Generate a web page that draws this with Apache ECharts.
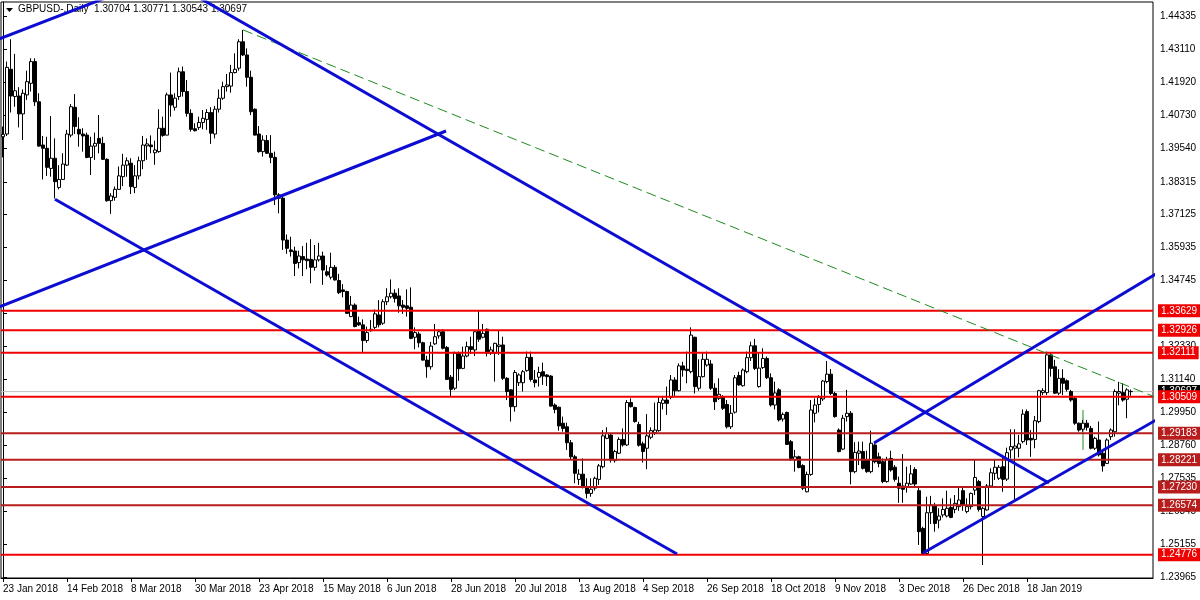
<!DOCTYPE html>
<html>
<head>
<meta charset="utf-8">
<script src="https://cdn.jsdelivr.net/npm/echarts@6/dist/echarts.min.js"></script>
<style>
html,body{margin:0;padding:0;background:#fff;}
#chart{width:1200px;height:600px;}
</style>
</head>
<body>
<div id="chart"></div>
<script>
// ---------- DATA ----------
const symbolTitle = 'GBPUSD-,Daily';
const headerQuote = ['1.30704', '1.30771', '1.30543', '1.30697'];
const startDay = '2018-01-23';
const holidays = ['2018-12-25', '2019-01-01'];
const slotCount = 288;          // bars + empty right margin
const labelEvery = 16;

const opens = [
1.3995,1.4005,1.4240,1.4141,1.4143,1.4078,1.4147,1.4189,1.4268,1.4122,
1.3965,1.3953,1.3880,1.3917,1.3811,1.3840,1.3892,1.4001,1.4102,1.4022,
1.4005,1.4001,1.3920,1.3961,1.3989,1.3971,1.3913,1.3763,1.3775,1.3804,
1.3850,1.3892,1.3899,1.3811,1.3853,1.3908,1.3962,1.3965,1.3937,1.3941,
1.4026,1.4001,1.4147,1.4102,1.4141,1.4231,1.4159,1.4080,1.4024,1.4029,
1.4047,1.4058,1.4083,1.4005,1.4095,1.4135,1.4177,1.4179,1.4228,1.4244,
1.4340,1.4292,1.4211,1.4095,1.4005,1.3941,1.3981,1.3935,1.3920,1.3784,
1.3772,1.3620,1.3584,1.3580,1.3538,1.3560,1.3551,1.3550,1.3521,1.3548,
1.3562,1.3505,1.3485,1.3521,1.3473,1.3439,1.3433,1.3342,1.3384,1.3320,
1.3312,1.3255,1.3291,1.3303,1.3348,1.3318,1.3396,1.3414,1.3427,1.3417,
1.3384,1.3381,1.3376,1.3267,1.3279,1.3247,1.3184,1.3160,1.3243,1.3272,
1.3287,1.3230,1.3122,1.3082,1.3209,1.3154,1.3199,1.3233,1.3221,1.3290,
1.3267,1.3296,1.3209,1.3209,1.3233,1.3239,1.3118,1.3076,1.3015,1.3102,
1.3102,1.3146,1.3194,1.3112,1.3122,1.3142,1.3130,1.3126,1.3021,1.3013,
1.2955,1.2942,1.2884,1.2833,1.2751,1.2770,1.2725,1.2700,1.2719,1.2751,
1.2797,1.2900,1.2912,1.2819,1.2846,1.2896,1.2876,1.3030,1.3012,1.2950,
1.2880,1.2864,1.2904,1.2921,1.2928,1.3027,1.3039,1.3049,1.3112,1.3073,
1.3163,1.3151,1.3142,1.3267,1.3082,1.3124,1.3166,1.3170,1.3082,1.3045,
1.3051,1.3023,1.2942,1.2995,1.3128,1.3091,1.3142,1.3193,1.3236,1.3088,
1.3157,1.3190,1.3120,1.3021,1.3076,1.2970,1.2994,1.2888,1.2821,1.2833,
1.2801,1.2706,1.2769,1.2991,1.3023,1.3043,1.3106,1.3133,1.3063,1.2930,
1.2861,1.2979,1.2991,1.2779,1.2846,1.2852,1.2821,1.2779,1.2876,1.2833,
1.2815,1.2743,1.2827,1.2795,1.2737,1.2727,1.2725,1.2734,1.2787,1.2710,
1.2573,1.2482,1.2630,1.2654,1.2603,1.2622,1.2618,1.2649,1.2642,1.2652,
1.2710,1.2634,1.2652,1.2712,1.2743,1.2616,1.2640,1.2727,1.2773,1.2755,
1.2797,1.2752,1.2858,1.2864,1.2864,1.2888,1.2997,1.2900,1.2896,1.2961,
1.3066,1.3066,1.3203,1.3160,1.3064,1.3118,1.3109,1.3070,1.3045,1.2955,
1.2933,1.2955,1.2936,1.2864,1.2894,1.2846,1.2809,1.2906,1.2924,1.3064,
1.3066,1.3042,1.30704
];
const highs = [
1.4032,1.4268,1.4349,1.4296,1.4175,1.4167,1.4235,1.4280,1.4280,1.4153,
1.3998,1.3995,1.4070,1.3989,1.3892,1.3935,1.4020,1.4114,1.4150,1.4066,
1.4026,1.4010,1.3995,1.4010,1.4074,1.3995,1.3917,1.3790,1.3814,1.3887,
1.3933,1.3920,1.3917,1.3892,1.3923,1.3998,1.3989,1.4000,1.3981,1.4095,
1.4068,1.4155,1.4228,1.4153,1.4246,1.4250,1.4201,1.4095,1.4044,1.4068,
1.4092,1.4095,1.4102,1.4107,1.4167,1.4195,1.4223,1.4256,1.4298,1.4349,
1.4383,1.4316,1.4235,1.4098,1.4034,1.4000,1.4001,1.4001,1.3941,1.3790,
1.3778,1.3640,1.3632,1.3596,1.3581,1.3598,1.3610,1.3623,1.3602,1.3610,
1.3578,1.3529,1.3574,1.3529,1.3497,1.3460,1.3436,1.3417,1.3390,1.3342,
1.3332,1.3306,1.3330,1.3368,1.3402,1.3405,1.3445,1.3477,1.3441,1.3445,
1.3402,1.3441,1.3448,1.3303,1.3287,1.3251,1.3200,1.3250,1.3315,1.3296,
1.3296,1.3235,1.3130,1.3215,1.3215,1.3233,1.3251,1.3269,1.3293,1.3366,
1.3315,1.3299,1.3233,1.3247,1.3293,1.3269,1.3122,1.3078,1.3148,1.3136,
1.3148,1.3215,1.3215,1.3148,1.3160,1.3175,1.3133,1.3130,1.3027,1.3015,
1.2979,1.2957,1.2894,1.2840,1.2788,1.2827,1.2755,1.2755,1.2761,1.2807,
1.2930,1.2940,1.2918,1.2858,1.2904,1.2936,1.3039,1.3045,1.3015,1.2960,
1.2888,1.2988,1.2940,1.3030,1.3051,1.3054,1.3088,1.3130,1.3122,1.3172,
1.3178,1.3215,1.3303,1.3269,1.3187,1.3211,1.3215,1.3184,1.3100,1.3118,
1.3057,1.3039,1.3021,1.3130,1.3142,1.3154,1.3215,1.3251,1.3261,1.3209,
1.3227,1.3197,1.3136,1.3106,1.3082,1.2994,1.2997,1.2894,1.2858,1.2837,
1.2806,1.2779,1.3039,1.3045,1.3057,1.3112,1.3181,1.3152,1.3069,1.2936,
1.2985,1.3076,1.2999,1.2886,1.2888,1.2888,1.2855,1.2928,1.2882,1.2848,
1.2827,1.2833,1.2855,1.2803,1.2761,1.2843,1.2797,1.2803,1.2795,1.2724,
1.2579,1.2688,1.2691,1.2666,1.2646,1.2682,1.2710,1.2682,1.2694,1.2724,
1.2724,1.2682,1.2703,1.2821,1.2749,1.2652,1.2734,1.2791,1.2821,1.2803,
1.2840,1.2866,1.2933,1.2933,1.2912,1.3005,1.3005,1.2930,1.2981,1.3076,
1.3082,1.3215,1.3211,1.3185,1.3151,1.3151,1.3114,1.3076,1.3051,1.2957,
1.2967,1.2967,1.2945,1.2906,1.2961,1.2858,1.2900,1.2936,1.3078,1.3105,
1.3100,1.3082,1.30771
];
const lows = [
1.3920,1.3998,1.4083,1.4104,1.4029,1.3983,1.4129,1.4159,1.4107,1.3959,
1.3840,1.3853,1.3850,1.3771,1.3804,1.3838,1.3889,1.3993,1.4005,1.3959,
1.3941,1.3917,1.3856,1.3911,1.3935,1.3911,1.3759,1.3715,1.3763,1.3802,
1.3816,1.3850,1.3787,1.3790,1.3840,1.3877,1.3911,1.3935,1.3893,1.3937,
1.3995,1.4000,1.4068,1.4090,1.4129,1.4141,1.4068,1.4014,1.4014,1.4020,
1.4022,1.4020,1.3969,1.3989,1.4083,1.4129,1.4159,1.4155,1.4225,1.4235,
1.4288,1.4177,1.4074,1.4000,1.3937,1.3923,1.3933,1.3899,1.3747,1.3717,
1.3584,1.3570,1.3560,1.3489,1.3517,1.3489,1.3514,1.3463,1.3509,1.3542,
1.3457,1.3487,1.3477,1.3473,1.3424,1.3412,1.3352,1.3340,1.3303,1.3308,
1.3209,1.3247,1.3287,1.3296,1.3303,1.3312,1.3384,1.3408,1.3393,1.3356,
1.3352,1.3342,1.3260,1.3223,1.3230,1.3182,1.3120,1.3150,1.3239,1.3262,
1.3223,1.3112,1.3051,1.3075,1.3109,1.3151,1.3194,1.3206,1.3199,1.3250,
1.3263,1.3197,1.3203,1.3106,1.3203,1.3112,1.3039,1.2961,1.2997,1.3090,
1.3070,1.3142,1.3106,1.3085,1.3088,1.3094,1.3090,1.3015,1.2991,1.2928,
1.2924,1.2858,1.2824,1.2737,1.2731,1.2718,1.2682,1.2688,1.2710,1.2731,
1.2791,1.2897,1.2812,1.2812,1.2843,1.2870,1.2872,1.3012,1.2957,1.2870,
1.2812,1.2788,1.2897,1.2912,1.2924,1.3005,1.2985,1.3042,1.3054,1.3070,
1.3124,1.3100,1.3136,1.3063,1.3073,1.3121,1.3160,1.3076,1.3003,1.3039,
1.3003,1.2936,1.2934,1.2990,1.3091,1.3088,1.3136,1.3181,1.3148,1.3084,
1.3152,1.3115,1.3015,1.3005,1.2961,1.2961,1.2876,1.2818,1.2779,1.2791,
1.2712,1.2704,1.2764,1.2958,1.2994,1.3036,1.3100,1.3057,1.2975,1.2849,
1.2857,1.2961,1.2733,1.2773,1.2803,1.2787,1.2775,1.2773,1.2809,1.2795,
1.2737,1.2739,1.2779,1.2743,1.2666,1.2666,1.2703,1.2731,1.2727,1.2513,
1.2480,1.2480,1.2589,1.2561,1.2573,1.2613,1.2613,1.2610,1.2628,1.2637,
1.2637,1.2628,1.2642,1.2694,1.2634,1.2440,1.2637,1.2724,1.2749,1.2749,
1.2706,1.2745,1.2827,1.2676,1.2831,1.2882,1.2876,1.2833,1.2864,1.2955,
1.3057,1.3057,1.3124,1.3061,1.3057,1.3057,1.3070,1.3033,1.2949,1.2924,
1.2924,1.2928,1.2860,1.2858,1.2834,1.2779,1.2807,1.2894,1.2906,1.3020,
1.3033,1.2973,1.30543
];
const closes = [
1.4004,1.4247,1.4143,1.4162,1.4078,1.4153,1.4195,1.4268,1.4122,1.3961,
1.3953,1.3884,1.3917,1.3832,1.3840,1.3896,1.4005,1.4104,1.4032,1.4005,
1.3998,1.3920,1.3961,1.3971,1.3971,1.3913,1.3763,1.3780,1.3804,1.3853,
1.3892,1.3908,1.3814,1.3853,1.3908,1.3965,1.3969,1.3959,1.3947,1.4026,
1.4000,1.4147,1.4110,1.4135,1.4231,1.4159,1.4080,1.4022,1.4017,1.4047,
1.4062,1.4083,1.4008,1.4095,1.4135,1.4177,1.4183,1.4228,1.4240,1.4340,
1.4292,1.4211,1.4086,1.4001,1.3941,1.3983,1.3935,1.3920,1.3784,1.3772,
1.3620,1.3590,1.3578,1.3535,1.3562,1.3548,1.3545,1.3521,1.3548,1.3562,
1.3511,1.3493,1.3521,1.3475,1.3429,1.3433,1.3354,1.3384,1.3306,1.3312,
1.3255,1.3284,1.3296,1.3352,1.3312,1.3396,1.3414,1.3427,1.3408,1.3381,
1.3376,1.3372,1.3263,1.3284,1.3247,1.3184,1.3160,1.3235,1.3269,1.3287,
1.3227,1.3114,1.3078,1.3209,1.3153,1.3199,1.3233,1.3223,1.3287,1.3260,
1.3281,1.3209,1.3221,1.3245,1.3239,1.3118,1.3070,1.3015,1.3139,1.3130,
1.3142,1.3194,1.3114,1.3102,1.3139,1.3126,1.3124,1.3017,1.3005,1.2945,
1.2936,1.2884,1.2833,1.2773,1.2770,1.2725,1.2700,1.2715,1.2755,1.2800,
1.2909,1.2918,1.2821,1.2852,1.2896,1.2876,1.3030,1.3015,1.2961,1.2875,
1.2852,1.2909,1.2928,1.2930,1.3030,1.3039,1.3027,1.3112,1.3073,1.3163,
1.3148,1.3146,1.3275,1.3088,1.3124,1.3187,1.3187,1.3082,1.3033,1.3060,
1.3009,1.2942,1.2991,1.3120,1.3094,1.3148,1.3193,1.3236,1.3154,1.3155,
1.3190,1.3120,1.3021,1.3065,1.2967,1.2987,1.2878,1.2827,1.2833,1.2794,
1.2719,1.2769,1.3003,1.3021,1.3048,1.3108,1.3133,1.3063,1.2979,1.2852,
1.2973,1.2991,1.2779,1.2849,1.2854,1.2791,1.2779,1.2882,1.2815,1.2809,
1.2743,1.2824,1.2785,1.2751,1.2719,1.2715,1.2737,1.2771,1.2734,1.2561,
1.2482,1.2630,1.2658,1.2591,1.2618,1.2642,1.2646,1.2613,1.2664,1.2676,
1.2658,1.2652,1.2700,1.2758,1.2642,1.2646,1.2727,1.2775,1.2795,1.2795,
1.2751,1.2848,1.2870,1.2872,1.2880,1.2988,1.2894,1.2894,1.2964,1.3073,
1.3073,1.3203,1.3154,1.3064,1.3118,1.3100,1.3078,1.3039,1.2955,1.2930,
1.2955,1.2940,1.2864,1.2900,1.2840,1.2800,1.2894,1.2930,1.3070,1.3070,
1.3039,1.3076,1.30697
];
const currentPrice = 1.30697;

// horizontal levels (two colour groups)
const mainLevels = [1.33629, 1.32926, 1.32111, 1.30509, 1.24776];
const innerLevels = [1.29183, 1.28221, 1.27230, 1.26574];

// price axis tick labels
const priceTicks = [1.44335, 1.43110, 1.41920, 1.40730, 1.39540, 1.38315, 1.37125, 1.35935,
  1.34745, 1.33555, 1.32330, 1.31140, 1.29950, 1.28760, 1.27535, 1.26345, 1.25155, 1.23965];
const priceMin = 1.23929, priceMax = 1.44843;

// trend lines: [barIndex, price] endpoints
const blueLines = [
  [[-3.25, 1.43369], [29.25, 1.45196]],
  [[-2.0, 1.33711], [110.75, 1.40159]],
  [[13.0, 1.37679], [168.5, 1.24800]],
  [[49.25, 1.44981], [261.5, 1.27378]],
  [[217.75, 1.28831], [290.5, 1.35170]],
  [[230.0, 1.24837], [290.5, 1.29850]]
];
const greenDashed = [[60, 1.4383], [288, 1.30501]];
const greenMarker = [[270, 1.3003], [270, 1.2858]];

// ---------- BUILD ----------
const MONTHS = ['Jan','Feb','Mar','Apr','May','Jun','Jul','Aug','Sep','Oct','Nov','Dec'];
function tradingDays(start, n, skip) {
  const out = [];
  const d = new Date(start + 'T00:00:00Z');
  while (out.length < n) {
    const wd = d.getUTCDay();
    const iso = d.toISOString().slice(0, 10);
    if (wd !== 0 && wd !== 6 && skip.indexOf(iso) < 0) {
      out.push(d.getUTCDate() + ' ' + MONTHS[d.getUTCMonth()] + ' ' + d.getUTCFullYear());
    }
    d.setUTCDate(d.getUTCDate() + 1);
  }
  return out;
}
const categories = tradingDays(startDay, slotCount, holidays);
const candles = opens.map((o, i) => [o, closes[i], lows[i], highs[i]]);

const FONT = 'Liberation Sans';
const BLUE = '#0c0cd2';
const RED = '#f00000';
const DARKRED = '#b81d1d';
const X_LO = -0.5, X_HI = slotCount - 0.5;

function hLine(v, color, width, labelBg, z) {
  return {
    type: 'line', xAxisIndex: 1, yAxisIndex: 0,
    data: [[X_LO, v], [X_HI, v]],
    symbol: 'none', silent: true, z: z, clip: false,
    lineStyle: { color: color, width: width, type: 'solid' },
    endLabel: {
      show: true, distance: 5,
      formatter: () => v.toFixed(5),
      color: '#fff', backgroundColor: labelBg,
      fontFamily: FONT, fontSize: 10, padding: [2, 3, 1, 3]
    }
  };
}

const series = [
  {
    type: 'line', xAxisIndex: 1, yAxisIndex: 0, data: greenMarker,
    symbol: 'none', lineStyle: { color: '#1e8a1e', width: 1 }, silent: true, z: 1
  },
  hLine(currentPrice, '#c0c0c0', 1, '#000', 1),
  {
    type: 'candlestick', xAxisIndex: 0, yAxisIndex: 0, data: candles,
    barWidth: 3, z: 2,
    itemStyle: { color: '#ffffff', color0: '#000000', borderColor: '#000000', borderColor0: '#000000', borderWidth: 1 }
  }
]
.concat(innerLevels.map(v => hLine(v, DARKRED, 2, DARKRED, 4)))
.concat(mainLevels.map(v => hLine(v, RED, 2, RED, 4)))
.concat([{
  type: 'line', xAxisIndex: 1, yAxisIndex: 0, data: greenDashed,
  symbol: 'none', lineStyle: { color: '#1e8a1e', width: 1, type: [10, 5] }, silent: true, z: 5
}])
.concat(blueLines.map(seg => ({
  type: 'line', xAxisIndex: 1, yAxisIndex: 0, data: seg,
  symbol: 'none', lineStyle: { color: BLUE, width: 3 }, silent: true, z: 6
})));

const chart = echarts.init(document.getElementById('chart'), null, { renderer: 'canvas' });
chart.setOption({
  animation: false,
  backgroundColor: '#ffffff',
  grid: { left: 1, top: 2, width: 1152, height: 576, show: true, borderColor: '#000', borderWidth: 1, containLabel: false },
  xAxis: [
    {
      type: 'category', data: categories, boundaryGap: true,
      axisLine: { show: true, lineStyle: { color: '#000', width: 1 } },
      axisTick: { show: true, alignWithLabel: true, length: 4, interval: (i) => i % labelEvery === 0, lineStyle: { color: '#000' } },
      axisLabel: { interval: (i) => i % labelEvery === 0 && i < opens.length, align: 'left', margin: 6,
        fontFamily: FONT, fontSize: 10, color: '#000', showMinLabel: true, showMaxLabel: false, hideOverlap: false },
      splitLine: { show: false }
    },
    { type: 'value', min: X_LO, max: X_HI, show: false }
  ],
  yAxis: {
    type: 'value', position: 'right', min: priceMin, max: priceMax, scale: true,
    axisLine: { show: true, lineStyle: { color: '#000', width: 1 } },
    axisTick: { show: true, customValues: priceTicks, length: 4, lineStyle: { color: '#000' } },
    axisLabel: { customValues: priceTicks, formatter: (v) => v.toFixed(5), fontFamily: FONT, fontSize: 10, color: '#000', margin: 7 },
    splitLine: { show: false }
  },
  graphic: [
    { type: 'polygon', z: 0, shape: { points: [[6, 8], [13, 8], [9.5, 12]] }, style: { fill: '#000' } },
    { type: 'text', z: 0, left: 18, top: 4, style: { text: symbolTitle + '  ' + headerQuote.join(' '), font: '10px ' + FONT, fill: '#000' } }
  ],
  series: series
});
</script>
</body>
</html>
